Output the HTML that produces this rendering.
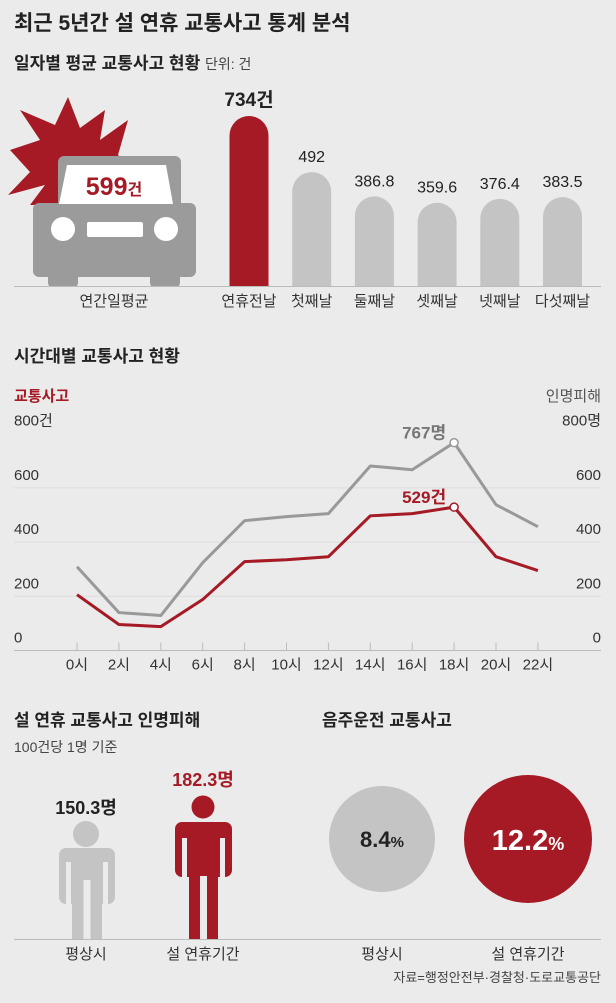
<!DOCTYPE html>
<html><head><meta charset="utf-8">
<style>
html,body{margin:0;padding:0;background:#ebebeb;}
body{width:616px;height:998px;overflow:hidden;font-family:"Liberation Sans","Noto Sans CJK KR",sans-serif;}
svg text{font-family:"Liberation Sans","Noto Sans CJK KR",sans-serif;}
</style></head>
<body>
<svg id="chart" width="616" height="998" xmlns="http://www.w3.org/2000/svg">
<rect width="616" height="998" fill="#ebebeb"/>
<text x="14" y="30" font-size="21" font-weight="bold" fill="#222">최근 5년간 설 연휴 교통사고 통계 분석</text>
<text x="14" y="69" font-size="17" font-weight="bold" fill="#222">일자별 평균 교통사고 현황 <tspan font-size="14" font-weight="normal" fill="#444">단위: 건</tspan></text>

<g>
<polygon fill="#a51a24" points="10,150 40,140 20,110 55,125 68,97 80,128 105,110 100,140 128,120 118,155 135,170 110,180 120,205 30,205 45,185 8,195 30,172"/>
<rect x="58" y="156" width="123" height="55" rx="6" fill="#9b9b9b"/>
<rect x="33" y="203" width="163" height="74" rx="6" fill="#9b9b9b"/>
<rect x="48" y="265" width="30" height="22" rx="4" fill="#9b9b9b"/>
<rect x="150" y="265" width="30" height="22" rx="4" fill="#9b9b9b"/>
<polygon points="67,165 166,165 173,204 59,204" fill="#fff"/>
<circle cx="63" cy="229" r="12" fill="#fff"/>
<circle cx="166" cy="229" r="12" fill="#fff"/>
<rect x="87" y="222" width="56" height="15" rx="2" fill="#fff"/>
<text x="114" y="195" text-anchor="middle" font-size="25" font-weight="bold" fill="#a51a24">599<tspan font-size="16">건</tspan></text>
</g>
<text x="114" y="306" text-anchor="middle" font-size="15" fill="#333">연간일평균</text>
<g id="bars"></g>
<line x1="14" y1="286.5" x2="601" y2="286.5" stroke="#bbb" stroke-width="1"/>

<text x="14" y="362" font-size="17" font-weight="bold" fill="#222">시간대별 교통사고 현황</text>
<text x="14" y="401" font-size="15" font-weight="bold" fill="#a51a24">교통사고</text>
<text x="601" y="401" text-anchor="end" font-size="15" fill="#555">인명피해</text>
<g id="line"></g>

<text x="14" y="726" font-size="17" font-weight="bold" fill="#222">설 연휴 교통사고 인명피해</text>
<text x="14" y="752" font-size="14" fill="#444">100건당 1명 기준</text>
<text x="322" y="726" font-size="17" font-weight="bold" fill="#222">음주운전 교통사고</text>
<g fill="#c4c4c4">
<circle cx="86" cy="834" r="13"/>
<rect x="59" y="848" width="56" height="56" rx="7"/>
<rect x="72" y="880" width="30" height="59"/>
</g>
<rect x="83.5" y="880" width="7" height="59" fill="#ebebeb"/>
<rect x="66" y="862" width="5" height="42" fill="#ebebeb"/>
<rect x="103" y="862" width="5" height="42" fill="#ebebeb"/>
<g fill="#a51a24">
<circle cx="203" cy="807" r="11.5"/>
<rect x="175" y="822" width="57" height="55" rx="7"/>
<rect x="189" y="860" width="29" height="79"/>
</g>
<rect x="200" y="876" width="7" height="63" fill="#ebebeb"/>
<rect x="182" y="838" width="5" height="39" fill="#ebebeb"/>
<rect x="220" y="838" width="5" height="39" fill="#ebebeb"/>
<text x="86" y="814" text-anchor="middle" font-size="18" font-weight="bold" fill="#222">150.3명</text>
<text x="203" y="786" text-anchor="middle" font-size="18" font-weight="bold" fill="#a51a24">182.3명</text>
<circle cx="382" cy="839" r="53" fill="#c4c4c4"/>
<circle cx="528" cy="839" r="64" fill="#a51a24"/>
<text x="382" y="847" text-anchor="middle" font-size="22" font-weight="bold" fill="#222">8.4<tspan font-size="15">%</tspan></text>
<text x="528" y="850" text-anchor="middle" font-size="29" font-weight="bold" fill="#fff">12.2<tspan font-size="18">%</tspan></text>
<line x1="14" y1="939.5" x2="601" y2="939.5" stroke="#bbb"/>
<text x="86" y="959" text-anchor="middle" font-size="15" fill="#333">평상시</text>
<text x="203" y="959" text-anchor="middle" font-size="15" fill="#333">설 연휴기간</text>
<text x="382" y="959" text-anchor="middle" font-size="15" fill="#333">평상시</text>
<text x="528" y="959" text-anchor="middle" font-size="15" fill="#333">설 연휴기간</text>
<text x="601" y="982" text-anchor="end" font-size="13" fill="#444">자료=행정안전부·경찰청·도로교통공단</text>
</svg>
<script>
const barCategories=["연휴전날","첫째날","둘째날","셋째날","넷째날","다섯째날"];
const barValues=[734,492,386.8,359.6,376.4,383.5];
const barLabels=["734건","492","386.8","359.6","376.4","383.5"];
const hours=["0시","2시","4시","6시","8시","10시","12시","14시","16시","18시","20시","22시"];
const accidents=[206,96,88,188,328,335,346,497,505,529,346,295];
const casualties=[309,140,129,324,479,494,505,681,667,767,538,457];
const yTicks=[0,200,400,600,800];

const NS="http://www.w3.org/2000/svg";
function mk(tag,attrs,parent,text){const e=document.createElementNS(NS,tag);for(const k in attrs)e.setAttribute(k,attrs[k]);if(text!==undefined)e.textContent=text;parent.appendChild(e);return e;}

// bars
const bg=document.getElementById('bars');
const bBase=286, bScale=170/734, bW=39;
function bx(i){return 249+i*62.7;}
barValues.forEach((v,i)=>{
  const h=v*bScale, x=bx(i)-bW/2, y=bBase-h;
  const p=mk('path',{d:`M${x},${bBase} L${x},${y+bW/2} A${bW/2},${bW/2} 0 0 1 ${x+bW},${y+bW/2} L${x+bW},${bBase} Z`,fill:i===0?'#a51a24':'#c4c4c4'},bg);
  
  
  const t=mk('text',{x:bx(i),y:y-10,'text-anchor':'middle','font-size':i===0?19:16,'font-weight':i===0?'bold':'normal',fill:'#222'},bg,barLabels[i]);
  
  
  const c=mk('text',{x:bx(i),y:306,'text-anchor':'middle','font-size':15,fill:'#333'},bg,barCategories[i]);
  
  
});

// line chart
const lg=document.getElementById('line');
const y0=650.5, yS=54.2/200;
function yv(v){return y0-v*yS;}
function xh(i){return 77+i*41.9;}
yTicks.forEach(t=>{
  if(t>0&&t<800){const g=mk('line',{x1:14,x2:601,y1:yv(t),y2:yv(t),stroke:'#dcdcdc'},lg);
  
  }
  const lbl=t===800?'800건':String(t);
  const a=mk('text',{x:14,y:yv(t)-8,'font-size':15,fill:'#333'},lg,lbl);
  
  
  const b=mk('text',{x:601,y:yv(t)-8,'text-anchor':'end','font-size':15,fill:'#333'},lg,t===800?'800명':String(t));
  
  
});
const ax=mk('line',{x1:14,x2:601,y1:y0,y2:y0,stroke:'#bbb'},lg);


hours.forEach((h,i)=>{
  const tk=mk('line',{x1:xh(i),x2:xh(i),y1:y0-8,y2:y0,stroke:'#bbb'},lg);
  
  
  const t=mk('text',{x:xh(i),y:y0+19,'text-anchor':'middle','font-size':15,fill:'#333'},lg,h);
  
  
});
function series(vals,color,name){
  const pl=mk('polyline',{points:vals.map((v,i)=>xh(i)+','+yv(v)).join(' '),fill:'none',stroke:color,'stroke-width':3,'stroke-linejoin':'round'},lg);
  
  
}
series(casualties,'#999','casualties-line');
series(accidents,'#a51a24','accidents-line');
const pk=9;
const m1=mk('circle',{cx:xh(pk),cy:yv(casualties[pk]),r:4,fill:'#fff',stroke:'#999','stroke-width':1.5},lg);


const m2=mk('circle',{cx:xh(pk),cy:yv(accidents[pk]),r:4,fill:'#fff',stroke:'#a51a24','stroke-width':1.5},lg);


const l1=mk('text',{x:xh(pk)-8,y:yv(casualties[pk])-4,'text-anchor':'end','font-size':17,'font-weight':'bold',fill:'#777'},lg,casualties[pk]+'명');


const l2=mk('text',{x:xh(pk)-8,y:yv(accidents[pk])-4,'text-anchor':'end','font-size':17,'font-weight':'bold',fill:'#a51a24'},lg,accidents[pk]+'건');


</script>
</body></html>
